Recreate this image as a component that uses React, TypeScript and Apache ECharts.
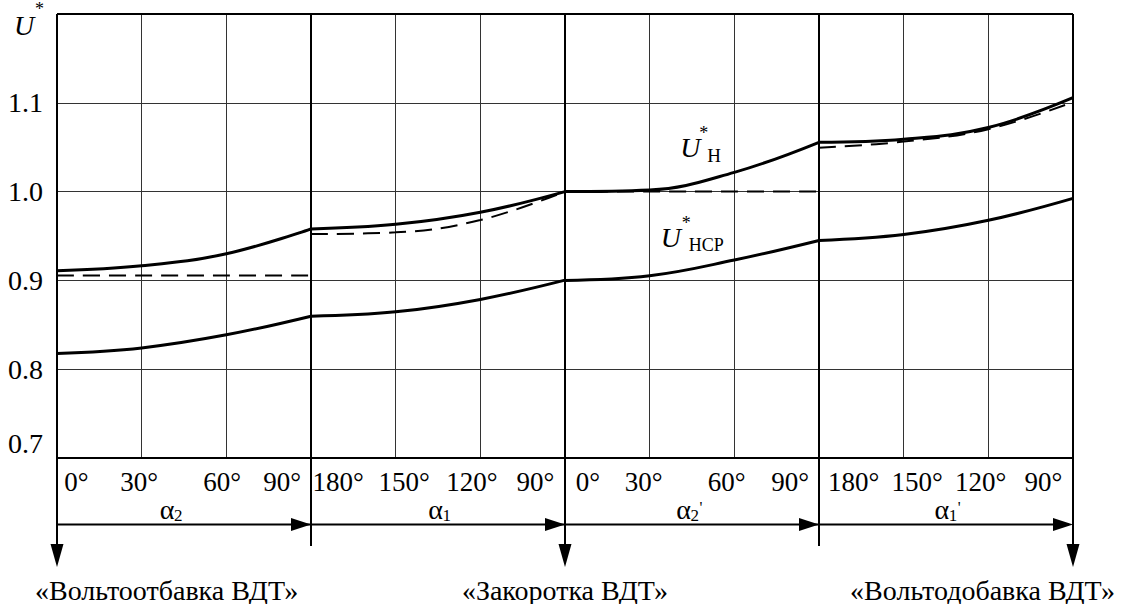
import React, { useEffect, useRef } from "react";
import * as echarts from "echarts";

// ---- data (values per section; each section spans 3 x-units, 4 ticks) ----
const SECTION_TICKS: string[][] = [
  ["0°", "30°", "60°", "90°"],
  ["180°", "150°", "120°", "90°"],
  ["0°", "30°", "60°", "90°"],
  ["180°", "150°", "120°", "90°"],
];
const SECTION_ALPHA_SUB = ["2", "1", "2", "1"];
const SECTION_ALPHA_PRIME = ["", "", "'", "'"];
const Y_TICKS = [0.7, 0.8, 0.9, 1.0, 1.1];
const MODE_LABELS = ["«Вольтоотбавка ВДТ»", "«Закоротка ВДТ»", "«Вольтодобавка ВДТ»"];

// U*_Н solid
const U_H = [
  [0.911, 0.9165, 0.93, 0.958],
  [0.958, 0.9631, 0.9767, 1.0],
  [1.0, 1.0018, 1.0217, 1.0555],
  [1.0555, 1.0589, 1.0722, 1.1057],
];
// U*_Н dashed
const U_H_DASH = [
  [0.9056, 0.9056, 0.9056, 0.9056],
  [0.9522, 0.9541, 0.968, 1.0],
  [1.0, 1.0, 1.0, 1.0],
  [1.0494, 1.0563, 1.0703, 1.1008],
];
// dashed vertical jumps [x, from, to]
const U_H_DASH_JUMPS = [
  [3, 0.9056, 0.9522],
  [9, 1.0, 1.0494],
];
// U*_НСР solid
const U_HCP = [
  [0.8177, 0.824, 0.8387, 0.8597],
  [0.8597, 0.8646, 0.8786, 0.9003],
  [0.9, 0.9052, 0.9229, 0.945],
  [0.945, 0.9517, 0.9677, 0.9924],
];

// ---- layout/style constants ----
const FONT = "Liberation Serif";
const TICK_LABEL_POS = [
  [0.23, 0.97, 1.95, 2.66],
  [0.32, 1.1, 1.9, 2.65],
  [0.27, 0.93, 1.91, 2.66],
  [0.41, 1.16, 1.91, 2.65],
];
const ALPHA_POS = [1.3, 1.47, 1.4, 1.45];

export default function App() {
  const ref = useRef<HTMLDivElement>(null);

  useEffect(() => {
    document.body.style.margin = "0";
    const chart = echarts.init(ref.current!, null, { renderer: "svg" });

    const series: any[] = [];
    const addCurves = (sections: number[][], dashed: boolean) => {
      sections.forEach((vals, k) => {
        series.push({
          type: "line",
          data: vals.map((v, i) => [k * 3 + i, v]),
          smooth: 0.4,
          symbol: "none",
          silent: true,
          z: dashed ? 3 : 4,
          lineStyle: {
            color: "#000",
            width: dashed ? 2 : 3,
            type: dashed ? [17, 9] : "solid",
          },
        });
      });
    };
    addCurves(U_H_DASH, true);
    addCurves(U_H, false);
    addCurves(U_HCP, false);
    U_H_DASH_JUMPS.forEach(([x, a, b]) => {
      series.push({
        type: "line",
        data: [
          [x, a],
          [x, b],
        ],
        symbol: "none",
        silent: true,
        z: 3,
        lineStyle: { color: "#000", width: 2, type: [12, 6] },
      });
    });

    chart.setOption({
      animation: false,
      textStyle: { fontFamily: FONT },
      grid: { left: 57, right: 51, top: 14, bottom: 146 },
      xAxis: {
        type: "value",
        min: 0,
        max: 12,
        interval: 1,
        axisLine: { show: false },
        axisTick: { show: false },
        axisLabel: { show: false },
        splitLine: { show: true, lineStyle: { color: "#333", width: 1 } },
      },
      yAxis: {
        type: "value",
        min: 0.7,
        max: 1.2,
        interval: 0.1,
        axisLine: { show: false },
        axisTick: { show: false },
        axisLabel: {
          margin: 14,
          color: "#000",
          fontSize: 28,
          fontFamily: FONT,
          formatter: (v: number) => (v > 0.75 && v < 1.15 ? v.toFixed(1) : ""),
        },
        splitLine: { show: true, lineStyle: { color: "#333", width: 1 } },
      },
      series,
    });

    const px = (x: number, y: number) =>
      chart.convertToPixel({ gridIndex: 0 }, [x, y]) as number[];
    const [x0, yBottom] = px(0, 0.7);
    const [, yTop] = px(0, 1.2);
    const xAt = (u: number) => px(u, 0.7)[0];
    const x12 = xAt(12);

    const yArrowLine = yBottom + 66.6;
    const yDivEnd = yBottom + 88;
    const yTip = yBottom + 109;

    const g: any[] = [];
    const line = (x1: number, y1: number, x2: number, y2: number, w = 2) =>
      g.push({
        type: "line",
        shape: { x1, y1, x2, y2 },
        style: { stroke: "#000", lineWidth: w },
        z: 10,
      });
    const poly = (points: number[][]) =>
      g.push({ type: "polygon", shape: { points }, style: { fill: "#000" }, z: 11 });
    const text = (
      t: string,
      x: number,
      y: number,
      size: number,
      align = "center",
      italic = false
    ) =>
      g.push({
        type: "text",
        x,
        y,
        z: 12,
        style: {
          text: t,
          fontSize: size,
          fontFamily: FONT,
          fontStyle: italic ? "italic" : "normal",
          fill: "#000",
          align,
          verticalAlign: "middle",
        },
      });

    // frame
    line(x0, yTop, x12, yTop);
    line(x0, yBottom, x12, yBottom);
    line(x0, yTop, x0, yTip - 20);
    line(x12, yTop, x12, yTip - 20);
    [3, 9].forEach((u) => line(xAt(u), yTop, xAt(u), yDivEnd));
    line(xAt(6), yTop, xAt(6), yTip - 20);
    // arrow line
    line(x0, yArrowLine, x12 - 4, yArrowLine);
    [3, 6, 9, 12].forEach((u) => {
      const x = xAt(u);
      poly([
        [x - 20, yArrowLine - 6.5],
        [x, yArrowLine],
        [x - 20, yArrowLine + 6.5],
      ]);
    });
    [0, 6, 12].forEach((u) => {
      const x = xAt(u);
      poly([
        [x - 6.5, yTip - 23],
        [x, yTip],
        [x + 6.5, yTip - 23],
      ]);
    });

    // tick labels under axis
    SECTION_TICKS.forEach((ticks, k) => {
      ticks.forEach((t, i) => {
        text(t, xAt(k * 3 + TICK_LABEL_POS[k][i]), yBottom + 24, 27);
      });
      const ax = xAt(k * 3 + ALPHA_POS[k]);
      text("α", ax, yBottom + 51, 28);
      text(SECTION_ALPHA_SUB[k], ax + 7, yBottom + 57, 17, "left");
      if (SECTION_ALPHA_PRIME[k]) text(SECTION_ALPHA_PRIME[k], ax + 16, yBottom + 49, 16, "left");
    });

    // 0.7 label (raised above the axis line)
    text(Y_TICKS[0].toFixed(1), x0 - 14, yBottom - 15, 28, "right");

    // U* axis title
    text("U", 14, 25, 28, "left", true);
    text("*", 35, 9, 18, "left");

    // curve labels
    const [hx, hy] = px(7.36, 1.0497);
    text("U", hx, hy, 28, "left", true);
    text("*", hx + 19, hy - 14, 18, "left");
    text("Н", hx + 27, hy + 8, 19, "left");
    const [cx, cy] = px(7.13, 0.9483);
    text("U", cx, cy, 28, "left", true);
    text("*", cx + 21, cy - 15, 18, "left");
    text("НСР", cx + 28, cy + 7, 18, "left");

    // mode labels
    const yMode = yBottom + 132;
    text(MODE_LABELS[0], x0 - 22, yMode, 28, "left");
    text(MODE_LABELS[1], xAt(6), yMode, 28, "center");
    text(MODE_LABELS[2], x12 + 42, yMode, 28, "right");

    chart.setOption({ graphic: { elements: g } });

    return () => chart.dispose();
  }, []);

  return (
    <div
      ref={ref}
      style={{ position: "fixed", left: 0, top: 0, width: 1124, height: 604, background: "#fff" }}
    />
  );
}
